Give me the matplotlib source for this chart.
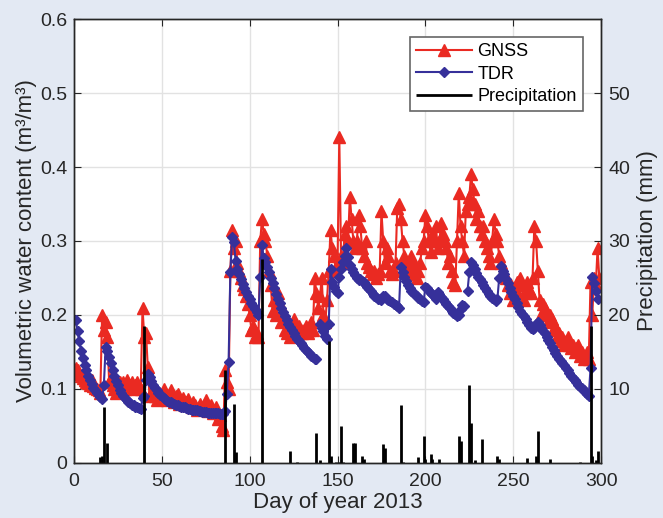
import numpy as np
import matplotlib
matplotlib.use("Agg")
from matplotlib import pyplot as plt

plt.rcParams['font.family'] = ['Liberation Sans', 'DejaVu Sans']

# daily series, day 1 .. 299
gnss = [0.128, 0.125, 0.12, 0.118, 0.115, 0.112, 0.11, 0.108, 0.106, 0.112,
        0.104, 0.102, 0.1, 0.098, 0.095, 0.2, 0.18, 0.19, 0.17, 0.11,
        0.115, 0.105, 0.1, 0.095, 0.108, 0.11, 0.105, 0.11, 0.1, 0.112,
        0.108, 0.105, 0.11, 0.1, 0.106, 0.11, 0.104, 0.1, 0.21, 0.17,
        0.175, 0.13, 0.09, 0.095, 0.1, 0.09, 0.085, 0.095, 0.09, 0.088,
        0.1, 0.095, 0.085, 0.092, 0.098, 0.088, 0.082, 0.09, 0.093, 0.08,
        0.085, 0.088, 0.078, 0.082, 0.086, 0.078, 0.075, 0.082, 0.079, 0.072,
        0.076, 0.08, 0.074, 0.078, 0.085, 0.07, 0.075, 0.079, 0.068, 0.072,
        0.076, 0.06, 0.065, 0.05, 0.045, 0.125, 0.11, 0.1, 0.26, 0.315,
        0.29, 0.3, 0.27, 0.26, 0.25, 0.24, 0.235, 0.225, 0.215, 0.2,
        0.18, 0.185, 0.17, 0.175, 0.17, 0.3, 0.33, 0.31, 0.3, 0.28,
        0.26, 0.24, 0.205, 0.22, 0.2, 0.23, 0.215, 0.19, 0.2, 0.18,
        0.175, 0.185, 0.17, 0.18, 0.195, 0.18, 0.175, 0.185, 0.18, 0.175,
        0.18, 0.185, 0.175, 0.18, 0.19, 0.18, 0.25, 0.23, 0.21, 0.225,
        0.25, 0.2, 0.19, 0.22, 0.26, 0.315, 0.29, 0.28, 0.26, 0.27,
        0.44, 0.28, 0.27, 0.31, 0.32, 0.3, 0.36, 0.33, 0.3, 0.29,
        0.3, 0.335, 0.32, 0.29, 0.28, 0.3, 0.27, 0.265, 0.26, 0.255,
        0.26, 0.25, 0.255, 0.26, 0.34, 0.3, 0.27, 0.29, 0.28, 0.26,
        0.255, 0.26, 0.27, 0.345, 0.35, 0.33, 0.3, 0.28, 0.27, 0.255,
        0.26, 0.28, 0.27, 0.26, 0.25, 0.26, 0.27, 0.29, 0.3, 0.335,
        0.32, 0.3, 0.285, 0.31, 0.3, 0.32, 0.29, 0.3, 0.325, 0.31,
        0.3, 0.29, 0.27, 0.28, 0.26, 0.245, 0.24, 0.3, 0.365, 0.32,
        0.3, 0.28, 0.34, 0.35, 0.36, 0.39, 0.37, 0.35, 0.33, 0.34,
        0.32, 0.31, 0.32, 0.3, 0.29, 0.28, 0.27, 0.3, 0.33, 0.31,
        0.3, 0.28, 0.27, 0.26, 0.255, 0.25, 0.24, 0.23, 0.24, 0.22,
        0.23, 0.245, 0.23, 0.25, 0.24, 0.22, 0.23, 0.245, 0.235, 0.23,
        0.25, 0.32, 0.3, 0.26, 0.22, 0.2, 0.215, 0.21, 0.2, 0.19,
        0.2, 0.195, 0.18, 0.185, 0.17, 0.175, 0.165, 0.17, 0.16, 0.165,
        0.17, 0.16, 0.155, 0.16, 0.15, 0.155, 0.16, 0.145, 0.15, 0.14,
        0.145, 0.15, 0.14, 0.245, 0.2, 0.25, 0.24, 0.29, 0.25]

nan = float('nan')
tdr = [0.193, 0.178, 0.165, 0.152, 0.142, 0.133, 0.125, 0.118, 0.112, 0.107,
       0.102, 0.098, 0.095, 0.092, 0.089, 0.086, 0.105, 0.157, 0.152, 0.143,
       0.135, 0.126, 0.118, 0.111, 0.105, 0.099, 0.095, 0.091, 0.088, 0.085,
       0.083, 0.081, 0.079, 0.078, 0.076, 0.075, 0.074, 0.073, 0.088, 0.09,
       0.112, 0.12, 0.116, 0.111, 0.106, 0.102, 0.098, 0.095, 0.092, 0.09,
       0.088, 0.086, 0.084, 0.083, 0.082, 0.081, 0.08, 0.079, 0.078, 0.077,
       0.076, 0.075, 0.075, 0.074, 0.073, 0.073, 0.072, 0.072, 0.071, 0.071,
       0.07, 0.07, 0.069, 0.069, 0.069, 0.068, 0.068, 0.068, 0.067, 0.067,
       0.067, 0.067, 0.066, 0.066, 0.066, 0.07, 0.093, 0.137, 0.258, 0.305,
       0.298, 0.273, 0.262, 0.255, 0.248, 0.242, 0.236, 0.231, 0.226, 0.221,
       0.216, 0.212, 0.208, 0.204, 0.2, 0.252, 0.295, 0.277, 0.272, 0.265,
       0.258, 0.25, 0.243, 0.236, 0.229, 0.222, 0.216, 0.21, 0.204, 0.198,
       0.193, 0.188, 0.184, 0.18, 0.176, 0.172, 0.168, 0.165, 0.162, 0.159,
       0.156, 0.153, 0.15, 0.148, 0.145, 0.143, 0.141, 0.14, nan, 0.188,
       0.183, 0.178, 0.172, 0.167, 0.188, 0.262, 0.245, 0.238, 0.233, 0.23,
       0.252, 0.262, 0.272, 0.28, 0.29, 0.278, 0.268, 0.262, 0.258, 0.254,
       0.25, 0.247, 0.248, 0.246, 0.244, 0.241, 0.238, 0.235, 0.232, 0.229,
       0.226, 0.224, 0.222, 0.221, 0.22, 0.226, 0.225, 0.222, 0.22, 0.219,
       0.217, 0.215, 0.213, 0.212, 0.21, 0.265, 0.258, 0.252, 0.246, 0.241,
       0.237, 0.233, 0.23, 0.228, 0.226, 0.223, 0.221, 0.219, 0.218, 0.238,
       0.236, 0.233, 0.23, 0.228, 0.225, 0.222, 0.231, 0.228, 0.224, 0.221,
       0.218, 0.215, 0.212, 0.209, 0.206, 0.203, 0.201, 0.199, 0.2, 0.208,
       0.214, 0.212, nan, 0.233, 0.258, 0.272, 0.268, 0.262, 0.257, 0.252,
       0.248, 0.244, 0.24, 0.236, 0.232, 0.229, 0.226, 0.223, 0.221, 0.219,
       0.222, 0.25, 0.266, 0.26, 0.255, 0.249, 0.243, 0.237, 0.231, 0.226,
       0.221, 0.216, 0.211, 0.206, 0.202, 0.198, 0.194, 0.19, 0.186, 0.183,
       0.181, 0.182, 0.188, 0.19, 0.187, 0.183, 0.179, 0.175, 0.17, 0.166,
       0.162, 0.157, 0.153, 0.149, 0.145, 0.141, 0.138, 0.135, 0.132, 0.128,
       0.125, 0.121, 0.118, 0.115, 0.112, 0.109, 0.106, 0.103, 0.101, 0.099,
       0.096, 0.093, 0.091, 0.128, 0.252, 0.243, 0.232, 0.222]

rain_days = [15, 16, 17, 19, 40, 86, 91, 92, 107, 123, 127, 138, 140, 145, 146,
             149, 151, 152, 153, 159, 160, 164, 165, 176, 177, 186, 187, 196,
             199, 200, 203, 204, 208, 219, 220, 225, 226, 228, 232, 241, 242,
             258, 263, 264, 271, 288, 294, 295, 297, 298]
rain_mm = [0.8, 1.0, 7.5, 2.7, 18.5, 12.5, 8.0, 1.5, 27.5, 1.6, 0.2, 4.0, 0.4,
           16.5, 1.0, 0.2, 0.2, 5.0, 0.2, 2.7, 2.7, 1.0, 0.6, 2.5, 2.0, 7.8,
           0.2, 0.8, 3.6, 0.6, 1.2, 0.5, 0.6, 3.7, 3.0, 10.6, 5.4, 0.4, 3.2,
           0.9, 0.5, 0.7, 1.0, 4.3, 0.6, 0.2, 18.5, 1.0, 0.4, 1.6]

days_g = np.arange(1, len(gnss) + 1)
days_t = np.arange(1, len(tdr) + 1)

red = '#ea2a22'
blue = '#36309a'
txt = '#262626'

fig = plt.figure(figsize=(6.63, 5.18), dpi=100, facecolor='#e3e9f3')
ax = fig.add_axes([0.1116, 0.1062, 0.795, 0.8571])
ax2 = ax.twinx()

l1, = ax.plot(days_g, gnss, color=red, lw=1.5, marker='^', ms=8.5,
              mec=red, mfc=red, label='GNSS')
l2, = ax.plot(days_t, tdr, color=blue, lw=1.5, marker='D', ms=5.5,
              mec=blue, mfc=blue, label='TDR')
l3 = ax2.vlines(rain_days, 0, rain_mm, colors='k', lw=2, label='Precipitation')

ax.set_xlim(0, 300)
ax.set_ylim(0, 0.6)
ax2.set_ylim(0, 60)
ax.set_xticks(np.arange(0, 301, 50))
ax.set_yticks(np.arange(0, 0.61, 0.1))
ax.set_yticklabels(['0', '0.1', '0.2', '0.3', '0.4', '0.5', '0.6'])
ax2.set_yticks([10, 20, 30, 40, 50])

ax.grid(True, color='#e2e2e2', lw=1)
ax.set_axisbelow(True)
ax.tick_params(direction='in', top=True, length=5, labelsize=14,
               colors=txt, pad=5)
ax.tick_params(axis='x', pad=7)
ax2.tick_params(direction='in', length=5, labelsize=14, colors=txt, pad=5)
for a in (ax, ax2):
    for s in a.spines.values():
        s.set_color(txt)
        s.set_linewidth(1.0)

ax.set_xlabel('Day of year 2013', fontsize=16, color=txt, labelpad=2)
ax.set_ylabel('Volumetric water content (m³/m³)', fontsize=16, color=txt,
              labelpad=2)
ax2.set_ylabel('Precipitation (mm)', fontsize=16, color=txt, labelpad=5)

leg = ax.legend([l1, l2, l3], ['GNSS', 'TDR', 'Precipitation'],
                loc='upper right', bbox_to_anchor=(0.966, 0.96), fontsize=13,
                fancybox=False, framealpha=1, edgecolor='#666666',
                handlelength=3.1, handletextpad=0.3, borderpad=0.35,
                labelspacing=0.3, borderaxespad=0)
leg.get_frame().set_linewidth(1.2)
leg.remove()
ax2.add_artist(leg)

fig.savefig('out.png', dpi=100, facecolor=fig.get_facecolor())
